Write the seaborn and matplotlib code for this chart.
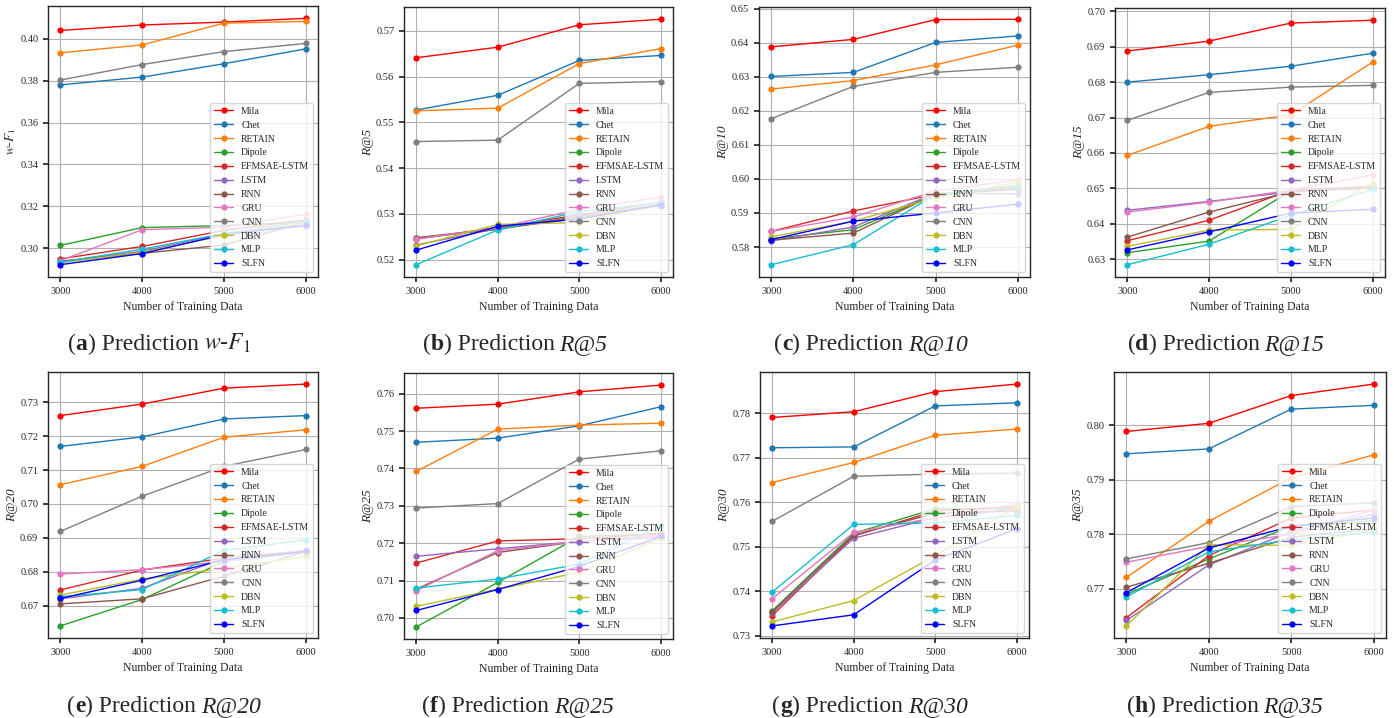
import pandas as pd
import matplotlib
matplotlib.use("Agg")
import matplotlib.pyplot as plt
from matplotlib.ticker import MultipleLocator
import seaborn as sns

# ---------- data ----------
sizes = [3000, 4000, 5000, 6000]
models = ["Mila", "Chet", "RETAIN", "Dipole", "EFMSAE-LSTM", "LSTM",
          "RNN", "GRU", "CNN", "DBN", "MLP", "SLFN"]

palette = {
    "Mila": "#ff0000", "Chet": "#1f77b4", "RETAIN": "#ff7f0e",
    "Dipole": "#2ca02c", "EFMSAE-LSTM": "#d62728", "LSTM": "#9467bd",
    "RNN": "#8c564b", "GRU": "#e377c2", "CNN": "#7f7f7f",
    "DBN": "#bcbd22", "MLP": "#17becf", "SLFN": "#0000ff",
}

wf1 = {
    "Mila": [0.4040, 0.4066, 0.4080, 0.4098],
    "Chet": [0.3780, 0.3817, 0.3881, 0.3952],
    "RETAIN": [0.3933, 0.3971, 0.4075, 0.4083],
    "Dipole": [0.3013, 0.3098, 0.3108, 0.3125],
    "EFMSAE-LSTM": [0.2949, 0.3008, 0.3085, 0.3135],
    "LSTM": [0.2935, 0.2985, 0.3070, 0.3105],
    "RNN": [0.2938, 0.2975, 0.3015, 0.3125],
    "GRU": [0.2940, 0.3088, 0.3100, 0.3162],
    "CNN": [0.3803, 0.3877, 0.3939, 0.3978],
    "DBN": [0.2930, 0.2980, 0.3060, 0.3120],
    "MLP": [0.2933, 0.2995, 0.3070, 0.3128],
    "SLFN": [0.2921, 0.2974, 0.3065, 0.3110],
}

r5 = {
    "Mila": [0.5641, 0.5664, 0.5713, 0.5725],
    "Chet": [0.5527, 0.5559, 0.5635, 0.5646],
    "RETAIN": [0.5525, 0.5531, 0.5628, 0.5661],
    "Dipole": [0.5247, 0.5266, 0.5295, 0.5320],
    "EFMSAE-LSTM": [0.5245, 0.5270, 0.5298, 0.5325],
    "LSTM": [0.5232, 0.5268, 0.5292, 0.5320],
    "RNN": [0.5248, 0.5268, 0.5290, 0.5318],
    "GRU": [0.5245, 0.5270, 0.5310, 0.5336],
    "CNN": [0.5458, 0.5461, 0.5585, 0.5589],
    "DBN": [0.5230, 0.5277, 0.5281, 0.5322],
    "MLP": [0.5189, 0.5265, 0.5305, 0.5324],
    "SLFN": [0.5221, 0.5273, 0.5289, 0.5320],
}

r10 = {
    "Mila": [0.6388, 0.6410, 0.6468, 0.6469],
    "Chet": [0.6301, 0.6313, 0.6401, 0.6420],
    "RETAIN": [0.6264, 0.6289, 0.6335, 0.6393],
    "Dipole": [0.5824, 0.5851, 0.5955, 0.5980],
    "EFMSAE-LSTM": [0.5846, 0.5906, 0.5955, 0.5970],
    "LSTM": [0.5818, 0.5859, 0.5958, 0.5956],
    "RNN": [0.5820, 0.5841, 0.5955, 0.5972],
    "GRU": [0.5846, 0.5888, 0.5965, 0.5997],
    "CNN": [0.6177, 0.6272, 0.6313, 0.6328],
    "DBN": [0.5830, 0.5876, 0.5945, 0.5990],
    "MLP": [0.5748, 0.5807, 0.5955, 0.5977],
    "SLFN": [0.5822, 0.5876, 0.5900, 0.5926],
}

r15 = {
    "Mila": [0.6888, 0.6916, 0.6967, 0.6975],
    "Chet": [0.6800, 0.6821, 0.6845, 0.6882],
    "RETAIN": [0.6593, 0.6675, 0.6708, 0.6857],
    "Dipole": [0.6318, 0.6351, 0.6493, 0.6500],
    "EFMSAE-LSTM": [0.6352, 0.6410, 0.6495, 0.6505],
    "LSTM": [0.6438, 0.6463, 0.6490, 0.6503],
    "RNN": [0.6362, 0.6433, 0.6490, 0.6502],
    "GRU": [0.6433, 0.6461, 0.6495, 0.6538],
    "CNN": [0.6692, 0.6771, 0.6786, 0.6791],
    "DBN": [0.6336, 0.6382, 0.6384, 0.6516],
    "MLP": [0.6284, 0.6342, 0.6424, 0.6497],
    "SLFN": [0.6326, 0.6377, 0.6430, 0.6441],
}

r20 = {
    "Mila": [0.7261, 0.7295, 0.7342, 0.7354],
    "Chet": [0.7170, 0.7198, 0.7251, 0.7261],
    "RETAIN": [0.7057, 0.7111, 0.7197, 0.7219],
    "Dipole": [0.6640, 0.6718, 0.6830, 0.6858],
    "EFMSAE-LSTM": [0.6746, 0.6805, 0.6840, 0.6862],
    "LSTM": [0.6720, 0.6751, 0.6840, 0.6858],
    "RNN": [0.6705, 0.6720, 0.6787, 0.6860],
    "GRU": [0.6793, 0.6806, 0.6830, 0.6865],
    "CNN": [0.6919, 0.7023, 0.7111, 0.7161],
    "DBN": [0.6731, 0.6778, 0.6810, 0.6845],
    "MLP": [0.6726, 0.6747, 0.6863, 0.6894],
    "SLFN": [0.6721, 0.6775, 0.6835, 0.6860],
}

r25 = {
    "Mila": [0.7561, 0.7572, 0.7605, 0.7623],
    "Chet": [0.7470, 0.7481, 0.7514, 0.7565],
    "RETAIN": [0.7392, 0.7505, 0.7516, 0.7521],
    "Dipole": [0.6976, 0.7095, 0.7218, 0.7225],
    "EFMSAE-LSTM": [0.7147, 0.7206, 0.7212, 0.7225],
    "LSTM": [0.7165, 0.7185, 0.7205, 0.7215],
    "RNN": [0.7077, 0.7175, 0.7205, 0.7220],
    "GRU": [0.7073, 0.7180, 0.7205, 0.7220],
    "CNN": [0.7294, 0.7306, 0.7425, 0.7447],
    "DBN": [0.7031, 0.7077, 0.7122, 0.7213],
    "MLP": [0.7080, 0.7104, 0.7144, 0.7247],
    "SLFN": [0.7020, 0.7076, 0.7138, 0.7218],
}

r30 = {
    "Mila": [0.7790, 0.7803, 0.7848, 0.7865],
    "Chet": [0.7722, 0.7724, 0.7816, 0.7823],
    "RETAIN": [0.7644, 0.7689, 0.7750, 0.7764],
    "Dipole": [0.7356, 0.7530, 0.7585, 0.7585],
    "EFMSAE-LSTM": [0.7345, 0.7524, 0.7580, 0.7590],
    "LSTM": [0.7351, 0.7519, 0.7565, 0.7585],
    "RNN": [0.7354, 0.7526, 0.7575, 0.7580],
    "GRU": [0.7383, 0.7532, 0.7565, 0.7595],
    "CNN": [0.7557, 0.7658, 0.7663, 0.7665],
    "DBN": [0.7331, 0.7379, 0.7480, 0.7590],
    "MLP": [0.7398, 0.7550, 0.7553, 0.7570],
    "SLFN": [0.7322, 0.7347, 0.7470, 0.7540],
}

r35 = {
    "Mila": [0.7989, 0.8004, 0.8055, 0.8076],
    "Chet": [0.7948, 0.7957, 0.8030, 0.8037],
    "RETAIN": [0.7721, 0.7824, 0.7904, 0.7946],
    "Dipole": [0.7690, 0.7755, 0.7815, 0.7825],
    "EFMSAE-LSTM": [0.7647, 0.7761, 0.7830, 0.7845],
    "LSTM": [0.7642, 0.7744, 0.7805, 0.7837],
    "RNN": [0.7703, 0.7747, 0.7795, 0.7810],
    "GRU": [0.7749, 0.7778, 0.7800, 0.7845],
    "CNN": [0.7755, 0.7785, 0.7851, 0.7858],
    "DBN": [0.7632, 0.7781, 0.7780, 0.7808],
    "MLP": [0.7685, 0.7768, 0.7790, 0.7805],
    "SLFN": [0.7693, 0.7775, 0.7815, 0.7830],
}

# ---------- layout ----------
W, H = 1394, 718
# data, metric label, caption letter, y tick step, axes box px (left, top, right, bottom), caption centre px
panels = [
    (wf1, r"$w$-$F_1$", "a", 0.02, (48, 6, 318, 277), (159, 344)),
    (r5, "R@5", "b", 0.01, (404, 7, 673, 277), (515, 344)),
    (r10, "R@10", "c", 0.01, (759, 7, 1030, 277), (871, 344)),
    (r15, "R@15", "d", 0.01, (1115, 8, 1385, 277), (1226, 344)),
    (r20, "R@20", "e", 0.01, (48, 372, 318, 638), (164, 706)),
    (r25, "R@25", "f", 0.01, (404, 373, 673, 639), (518, 706)),
    (r30, "R@30", "g", 0.01, (760, 372, 1029, 638), (870, 706)),
    (r35, "R@35", "h", 0.01, (1114, 372, 1386, 638), (1225, 706)),
]

sns.set_theme(style="ticks", rc={
    "axes.edgecolor": "0.15",
    "axes.linewidth": 1.0,
    "xtick.labelsize": 7.5,
    "ytick.labelsize": 7.5,
    "axes.labelsize": 8.5,
    "xtick.major.size": 3.5,
    "ytick.major.size": 3.5,
    "legend.framealpha": 0.8,
    "legend.edgecolor": "0.8",
})
plt.rcParams["font.family"] = ["Liberation Serif", "DejaVu Serif"]
plt.rcParams["mathtext.fontset"] = "stix"

fig = plt.figure(figsize=(W / 100, H / 100), dpi=100)
renderer = fig.canvas.get_renderer()
CAP_SIZE = 17


def caption(cx, cy, letter, metric):
    # "(x) Prediction metric" with bold letter and italic metric, centred on cx
    parts = [("(", {}), (letter, {"fontweight": "bold"}),
             (") Prediction", {}), (None, None),
             (metric, {} if metric.startswith("$") else {"fontstyle": "italic"})]
    gap = CAP_SIZE * 0.3
    texts, widths = [], []
    for s, kw in parts:
        if s is None:
            texts.append(None)
            widths.append(gap)
            continue
        t = fig.text(0, 1 - cy / H, s, fontsize=CAP_SIZE, va="baseline", ha="left", **kw)
        texts.append(t)
        widths.append(t.get_window_extent(renderer).width)
    x = cx - sum(widths) / 2
    for t, w in zip(texts, widths):
        if t is not None:
            t.set_x(x / W)
        x += w


for data, ylab, letter, step, (l, t, r, b), (cx, cy) in panels:
    ax = fig.add_axes([l / W, 1 - b / H, (r - l) / W, (b - t) / H])
    df = pd.DataFrame(data, index=sizes).reset_index(names="n")
    df = df.melt(id_vars="n", var_name="model", value_name="score")
    sns.lineplot(data=df, x="n", y="score", hue="model", hue_order=models,
                 palette=palette, marker="o", markersize=4.5, markeredgewidth=0,
                 linewidth=1, errorbar=None, ax=ax)
    ax.set_xticks(sizes)
    ax.yaxis.set_major_locator(MultipleLocator(step))
    ax.grid(True, color="#b0b0b0", linewidth=0.8)
    ax.set_xlabel("Number of Training Data")
    if ylab.startswith("$"):
        ax.set_ylabel(ylab, fontsize=9.5, labelpad=1.5)
    else:
        ax.set_ylabel(ylab, fontstyle="italic", fontsize=9.5, labelpad=1.5)
    sns.move_legend(ax, "lower right", title=None, fontsize=7, frameon=True)
    caption(cx, cy + 6, letter, ylab)

fig.savefig("out.png", dpi=100)
